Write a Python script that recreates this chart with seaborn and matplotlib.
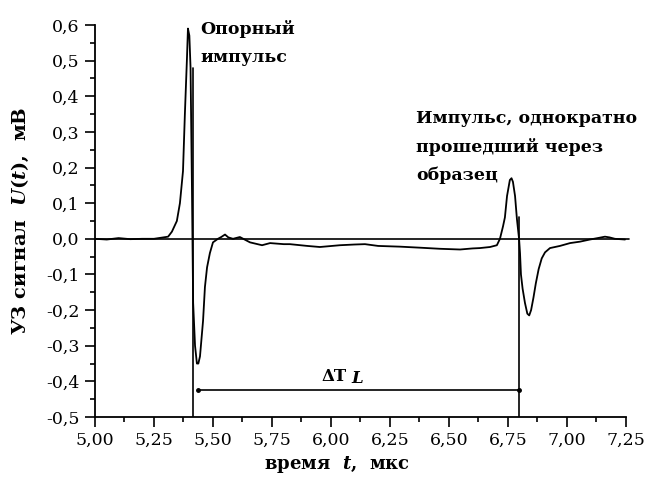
import numpy as np
import pandas as pd
import matplotlib
matplotlib.use("Agg")
import matplotlib.pyplot as plt
import seaborn as sns
from matplotlib.ticker import MultipleLocator, FuncFormatter

# ---- data ----
time_us = [5.000, 5.050, 5.100, 5.150, 5.200, 5.250, 5.290, 5.310, 5.326, 5.347,
           5.360, 5.373, 5.381, 5.390, 5.394, 5.400, 5.405, 5.411, 5.416, 5.424,
           5.432, 5.438, 5.445, 5.458, 5.466, 5.475, 5.487, 5.500, 5.521, 5.535,
           5.551, 5.565, 5.585, 5.614, 5.657, 5.708, 5.742, 5.800, 5.826, 5.900,
           5.953, 6.038, 6.100, 6.144, 6.200, 6.292, 6.380, 6.462, 6.547, 6.600,
           6.631, 6.674, 6.703, 6.716, 6.729, 6.737, 6.746, 6.758, 6.765, 6.771,
           6.780, 6.788, 6.797, 6.801, 6.805, 6.812, 6.822, 6.832, 6.840, 6.848,
           6.858, 6.868, 6.880, 6.893, 6.907, 6.928, 6.970, 7.013, 7.055, 7.097,
           7.130, 7.161, 7.180, 7.203, 7.246]
signal_mV = [0.000, -0.002, 0.002, -0.001, 0.000, 0.000, 0.004, 0.006, 0.020, 0.050,
             0.100, 0.190, 0.350, 0.510, 0.590, 0.570, 0.480, 0.140, -0.180, -0.300,
             -0.350, -0.350, -0.330, -0.230, -0.135, -0.080, -0.040, -0.010, 0.000, 0.005,
             0.012, 0.004, 0.000, 0.005, -0.010, -0.018, -0.012, -0.015, -0.015, -0.020,
             -0.023, -0.018, -0.016, -0.015, -0.020, -0.022, -0.025, -0.028, -0.030, -0.027,
             -0.026, -0.023, -0.018, 0.000, 0.035, 0.060, 0.120, 0.165, 0.170, 0.160,
             0.120, 0.055, 0.000, -0.040, -0.100, -0.140, -0.180, -0.210, -0.215, -0.200,
             -0.165, -0.125, -0.085, -0.055, -0.038, -0.026, -0.020, -0.012, -0.008, -0.002,
             0.002, 0.006, 0.004, 0.000, -0.002]

marker_times = [5.415, 6.797]          # vertical reference lines
marker_tops = [0.48, 0.06]
delta_start, delta_end, delta_level = 5.438, 6.795, -0.425

x_label = "время  $t$,  мкс"
y_label = "УЗ сигнал  $U(t)$,  мВ"
note_ref = "Опорный\nимпульс"
note_pass = "Импульс, однократно\nпрошедший через\nобразец"

# ---- style ----
sns.set_theme(style="ticks")
plt.rcParams["font.family"] = ["DejaVu Serif"]
plt.rcParams["mathtext.fontset"] = "custom"
plt.rcParams["mathtext.it"] = "DejaVu Serif:italic:bold"
plt.rcParams["mathtext.rm"] = "DejaVu Serif:bold"
for key in ["text.color", "axes.labelcolor", "xtick.color", "ytick.color",
            "axes.edgecolor"]:
    plt.rcParams[key] = "black"

fig = plt.figure(figsize=(6.46, 4.88), dpi=100)
ax = fig.add_axes([0.147, 0.1455, 0.822, 0.8033])

df = pd.DataFrame({"t": time_us, "U": signal_mV})
sns.lineplot(data=df, x="t", y="U", ax=ax, color="black", linewidth=1.3,
             estimator=None, sort=False)

ax.axhline(0, color="black", linewidth=1.2, xmax=1.005, clip_on=False)
for mt, top in zip(marker_times, marker_tops):
    ax.plot([mt, mt], [-0.5, top], color="black", linewidth=1.2)

ax.plot([delta_start, delta_end], [delta_level, delta_level], color="black",
        linewidth=1.2, marker="o", markersize=2.5)
ax.text(5.96, delta_level + 0.015, "ΔT", fontsize=12, fontweight="bold",
        ha="left", va="bottom")
ax.text(6.085, delta_level + 0.010, "$L$", fontsize=12, ha="left", va="bottom")

ax.text(5.445, 0.615, note_ref, fontsize=12.5, fontweight="bold", ha="left",
        va="top", linespacing=1.9)
ax.text(6.36, 0.362, note_pass, fontsize=12.5, fontweight="bold", ha="left",
        va="top", linespacing=1.8)

ax.set_xlim(5.0, 7.25)
ax.set_ylim(-0.5, 0.6)
ax.xaxis.set_major_locator(MultipleLocator(0.25))
ax.xaxis.set_minor_locator(MultipleLocator(0.125))
ax.yaxis.set_major_locator(MultipleLocator(0.1))
ax.yaxis.set_minor_locator(MultipleLocator(0.05))


def fmt_x(v, pos):
    return f"{v:.2f}".replace(".", ",")


def fmt_y(v, pos):
    if abs(v) < 1e-9:
        v = 0.0
    return f"{v:.1f}".replace(".", ",")


ax.xaxis.set_major_formatter(FuncFormatter(fmt_x))
ax.yaxis.set_major_formatter(FuncFormatter(fmt_y))
ax.tick_params(axis="both", which="major", direction="out", length=7, width=1.2,
               labelsize=12.5, colors="black", pad=4)
ax.tick_params(axis="both", which="minor", direction="out", length=3.5, width=1.2,
               colors="black")

for s in ["top", "right"]:
    ax.spines[s].set_visible(False)
for s in ["left", "bottom"]:
    ax.spines[s].set_linewidth(1.3)
    ax.spines[s].set_color("black")

ax.set_xlabel(x_label, fontsize=13, fontweight="bold", color="black")
ax.set_ylabel(y_label, fontsize=14, fontweight="bold", color="black")
ax.xaxis.set_label_coords(0.455, -0.095)
ax.yaxis.set_label_coords(-0.12, 0.5)

fig.savefig("out.png", dpi=100, facecolor="white")
